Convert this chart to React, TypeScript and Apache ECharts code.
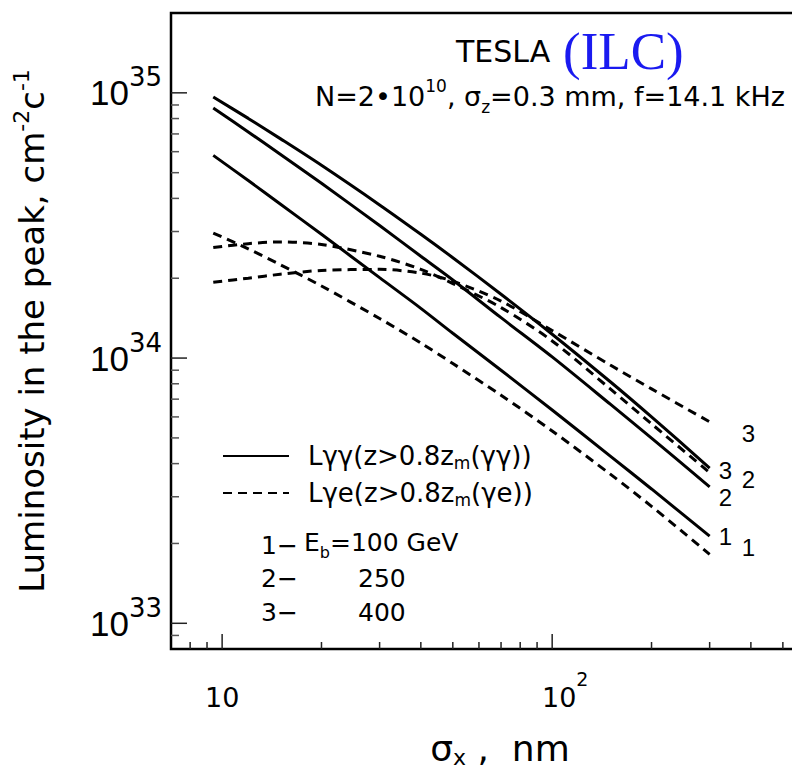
import React, { useEffect, useRef } from 'react';
import * as echarts from 'echarts';

// sigma_x (nm) sample points along the curves
const sigmaX = [9.4, 12, 15, 20, 30, 40, 50, 70, 100, 150, 200, 300];
// L_gamma-gamma (z > 0.8 z_m), cm^-2 s^-1
const lggE100 = [5.81e34, 4.67e34, 3.81e34, 2.93e34, 2.01e34, 1.54e34, 1.24e34, 9.00e33, 6.37e33, 4.27e33, 3.21e33, 2.13e33];
const lggE250 = [8.76e34, 7.12e34, 5.87e34, 4.56e34, 3.16e34, 2.42e34, 1.97e34, 1.42e34, 1.01e34, 6.70e33, 4.99e33, 3.27e33];
const lggE400 = [9.64e34, 8.01e34, 6.72e34, 5.33e34, 3.78e34, 2.93e34, 2.39e34, 1.74e34, 1.23e34, 8.14e33, 6.00e33, 3.85e33];
// L_gamma-e (z > 0.8 z_m)
const lgeE100 = [2.96e34, 2.58e34, 2.25e34, 1.87e34, 1.41e34, 1.14e34, 9.54e33, 7.24e33, 5.31e33, 3.65e33, 2.76e33, 1.82e33];
const lgeE250 = [2.61e34, 2.70e34, 2.74e34, 2.68e34, 2.42e34, 2.16e34, 1.91e34, 1.55e34, 1.16e34, 7.65e33, 5.65e33, 3.70e33];
const lgeE400 = [1.93e34, 2.00e34, 2.07e34, 2.14e34, 2.16e34, 2.09e34, 1.95e34, 1.64e34, 1.27e34, 9.41e33, 7.65e33, 5.75e33];

const curveLabels = ['1', '2', '3'];
const energies = ['100 GeV', '250', '400'];

// axis ranges and tick values
const X_MIN = 7;
const X_MAX = 600;
const Y_MIN = 8e32;
const Y_MAX = 2e35;
const xMajorTicks = [10, 100];
const xMinorTicks = [8, 9, 20, 30, 40, 50, 60, 70, 80, 90, 200, 300, 400, 500];
const yMajorTicks = [1e33, 1e34, 1e35];
const yMinorTicks = [
  9e32,
  2e33, 3e33, 4e33, 5e33, 6e33, 7e33, 8e33, 9e33,
  2e34, 3e34, 4e34, 5e34, 6e34, 7e34, 8e34, 9e34,
];

const SOLID_NAME = 'Lγγ(z>0.8zm(γγ))';
const DASH_NAME = 'Lγe(z>0.8zm(γe))';

const SANS = 'DejaVu Sans';

function buildOption() {
  const pairs = (ys: number[]) => sigmaX.map((x, i) => [x, ys[i]]);

  const tickData: number[][] = [];
  xMajorTicks.forEach((v) => tickData.push([v, Y_MIN, 0]));
  xMinorTicks.forEach((v) => tickData.push([v, Y_MIN, 1]));
  yMajorTicks.forEach((v) => tickData.push([X_MIN, v, 2]));
  yMinorTicks.forEach((v) => tickData.push([X_MIN, v, 3]));

  const solidStyle = { color: '#000', width: 3, type: 'solid' as const };
  const dashStyle = { color: '#000', width: 3, type: [9, 6] as any };

  const endLabel = (text: string, dx: number, dy: number) => ({
    show: true,
    formatter: () => text,
    distance: 0,
    offset: [dx, dy],
    align: 'left',
    verticalAlign: 'middle',
    color: '#000',
    fontFamily: 'Liberation Sans',
    fontSize: 24,
  });

  const lineSeries = (name: string, ys: number[], style: any, label: any) => ({
    type: 'line',
    name,
    data: pairs(ys),
    symbol: 'none',
    showSymbol: false,
    smooth: 0.3,
    lineStyle: style,
    itemStyle: { color: '#000' },
    endLabel: label,
    silent: true,
    z: 3,
  });

  return {
    animation: false,
    backgroundColor: '#fff',
    textStyle: { fontFamily: SANS, color: '#000' },
    grid: {
      left: 171,
      top: 13,
      right: -17,
      bottom: 121,
      containLabel: false,
      outerBoundsMode: 'none',
      show: true,
      borderColor: '#000',
      borderWidth: 2.5,
      backgroundColor: 'transparent',
    },
    xAxis: {
      type: 'log',
      logBase: 10,
      min: X_MIN,
      max: X_MAX,
      axisLine: { show: false },
      axisTick: { show: false },
      splitLine: { show: false },
      axisLabel: {
        showMinLabel: false,
        showMaxLabel: false,
        margin: 20,
        color: '#000',
        formatter: (v: number) => {
          const e = Math.round(Math.log10(v));
          return e === 1 ? '{b|10}' : `{bp|10}{s|${e}}`;
        },
        rich: {
          b: { fontFamily: SANS, fontSize: 27, lineHeight: 56, color: '#000' },
          bp: { fontFamily: SANS, fontSize: 27, lineHeight: 56, color: '#000', padding: [0, 0, 0, 26] },
          s: { fontFamily: SANS, fontSize: 19, lineHeight: 19, verticalAlign: 'top', color: '#000' },
        },
      },
      name: '{n|σ}{sub|x}{n| ,  nm}',
      nameLocation: 'middle',
      nameGap: 79,
      nameTextStyle: {
        padding: [0, 0, 0, 20],
        rich: {
          n: { fontFamily: SANS, fontSize: 36, lineHeight: 40, color: '#000' },
          sub: { fontFamily: SANS, fontSize: 22, lineHeight: 22, verticalAlign: 'bottom', color: '#000' },
        },
      },
    },
    yAxis: {
      type: 'log',
      logBase: 10,
      min: Y_MIN,
      max: Y_MAX,
      axisLine: { show: false },
      axisTick: { show: false },
      splitLine: { show: false },
      axisLabel: {
        showMinLabel: false,
        showMaxLabel: false,
        margin: 9,
        color: '#000',
        formatter: (v: number) => `{b|10}{s|${Math.round(Math.log10(v))}}`,
        rich: {
          b: { fontFamily: 'Liberation Sans', fontSize: 35, lineHeight: 57, color: '#000' },
          s: { fontFamily: SANS, fontSize: 26, lineHeight: 26, verticalAlign: 'top', color: '#000' },
        },
      },
      name: '{n|Luminosity in the peak, cm}{s|-2}{n|c}{s|-1}',
      nameLocation: 'middle',
      nameRotate: 90,
      nameGap: 117,
      nameTextStyle: {
        padding: [0, 0, 0, 0],
        rich: {
          n: { fontFamily: SANS, fontSize: 34, lineHeight: 44, color: '#000' },
          s: { fontFamily: SANS, fontSize: 22, lineHeight: 22, verticalAlign: 'top', color: '#000' },
        },
      },
    },
    legend: {
      data: [SOLID_NAME, DASH_NAME],
      orient: 'vertical',
      left: 217,
      top: 436,
      itemWidth: 66,
      itemHeight: 14,
      itemGap: 7,
      selectedMode: false,
      itemStyle: { opacity: 0 },
      formatter: (name: string) =>
        name === SOLID_NAME ? 'Lγγ(z>0.8z{s|m}(γγ))' : 'Lγe(z>0.8z{s|m}(γe))',
      textStyle: {
        fontFamily: SANS,
        fontSize: 26,
        lineHeight: 30,
        color: '#000',
        padding: [0, 0, 0, 14],
        rich: {
          s: { fontFamily: SANS, fontSize: 17, lineHeight: 17, verticalAlign: 'bottom', color: '#000' },
        },
      },
    },
    series: [
      lineSeries(SOLID_NAME, lggE100, solidStyle, endLabel(curveLabels[0], 9, 0)),
      lineSeries(SOLID_NAME, lggE250, solidStyle, endLabel(curveLabels[1], 9, 11)),
      lineSeries(SOLID_NAME, lggE400, solidStyle, endLabel(curveLabels[2], 9, 2)),
      lineSeries(DASH_NAME, lgeE100, dashStyle, endLabel(curveLabels[0], 32, -7)),
      lineSeries(DASH_NAME, lgeE250, dashStyle, endLabel(curveLabels[1], 32, 7)),
      lineSeries(DASH_NAME, lgeE400, dashStyle, endLabel(curveLabels[2], 32, 12)),
      {
        type: 'custom',
        name: 'ticks',
        silent: true,
        clip: false,
        z: 5,
        data: tickData,
        encode: { x: 0, y: 1 },
        renderItem: (_params: any, api: any) => {
          const kind = api.value(2);
          const p = api.coord([api.value(0), api.value(1)]);
          if (kind < 2) {
            const len = kind === 0 ? 15 : 7;
            return {
              type: 'line',
              shape: { x1: p[0], y1: p[1], x2: p[0], y2: p[1] - len },
              style: { stroke: '#222', lineWidth: 1.5 },
            };
          }
          const len = kind === 2 ? 16 : 8;
          return {
            type: 'line',
            shape: { x1: p[0], y1: p[1], x2: p[0] + len, y2: p[1] },
            style: { stroke: kind === 2 ? '#222' : '#555', lineWidth: 1.5 },
          };
        },
      },
    ],
    graphic: [
      {
        type: 'text',
        left: 456,
        top: 36,
        style: { text: 'TESLA', fontFamily: SANS, fontSize: 30, fill: '#000' },
      },
      {
        type: 'text',
        left: 563,
        top: 24,
        style: { text: '(ILC)', fontFamily: 'Liberation Serif', fontSize: 53, fill: '#1a1af0' },
      },
      {
        type: 'text',
        left: 315,
        top: 77,
        style: {
          text: '{n|N=2•10}{sup|10}{n|, σ}{sub|z}{n|=0.3 mm, f=14.1 kHz}',
          rich: {
            n: { fontFamily: SANS, fontSize: 27, lineHeight: 38, fill: '#000' },
            sup: { fontFamily: SANS, fontSize: 17, lineHeight: 17, verticalAlign: 'top', fill: '#000' },
            sub: { fontFamily: SANS, fontSize: 17, lineHeight: 17, verticalAlign: 'bottom', fill: '#000' },
          },
        },
      },
      {
        type: 'text',
        left: 261,
        top: 533,
        style: { text: curveLabels[0] + '−', fontFamily: SANS, fontSize: 25, fill: '#000' },
      },
      {
        type: 'text',
        left: 304,
        top: 530,
        style: {
          text: '{n|E}{sub|b}{n|=' + energies[0] + '}',
          rich: {
            n: { fontFamily: SANS, fontSize: 25, lineHeight: 36, fill: '#000' },
            sub: { fontFamily: SANS, fontSize: 16, lineHeight: 16, verticalAlign: 'bottom', fill: '#000' },
          },
        },
      },
      {
        type: 'text',
        left: 261,
        top: 566,
        style: { text: curveLabels[1] + '−', fontFamily: SANS, fontSize: 25, fill: '#000' },
      },
      {
        type: 'text',
        left: 358,
        top: 566,
        style: { text: energies[1], fontFamily: SANS, fontSize: 25, fill: '#000' },
      },
      {
        type: 'text',
        left: 261,
        top: 600,
        style: { text: curveLabels[2] + '−', fontFamily: SANS, fontSize: 25, fill: '#000' },
      },
      {
        type: 'text',
        left: 358,
        top: 600,
        style: { text: energies[2], fontFamily: SANS, fontSize: 25, fill: '#000' },
      },
    ],
  };
}

export default function App() {
  const ref = useRef<HTMLDivElement>(null);
  useEffect(() => {
    if (!ref.current) return;
    const chart = echarts.init(ref.current, null, { renderer: 'svg' });
    chart.setOption(buildOption() as any);
    return () => chart.dispose();
  }, []);
  return (
    <div
      ref={ref}
      style={{ position: 'fixed', left: 0, top: 0, width: 792, height: 770, background: '#fff' }}
    />
  );
}
